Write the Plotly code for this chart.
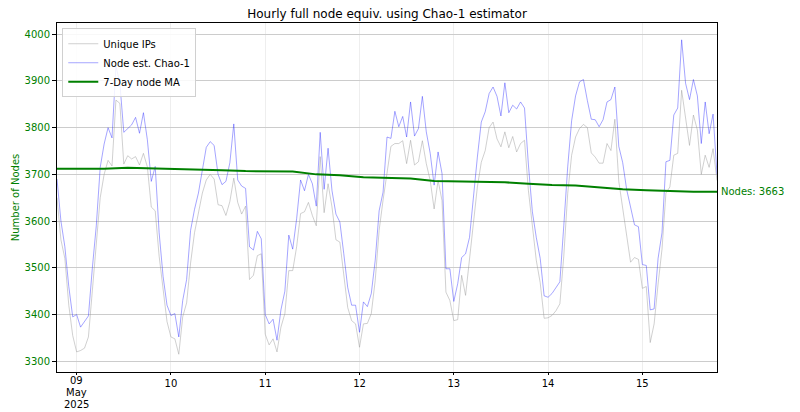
import pandas as pd
import plotly.graph_objects as go

# hourly samples, starting 2025-05-08 19:00
start = "2025-05-08 19:00"

unique_ips = [
    3650, 3560, 3520, 3420, 3355, 3320, 3323, 3328, 3352, 3450, 3560, 3650,
    3700, 3730, 3718, 3859, 3852, 3722, 3740, 3733, 3738, 3720, 3745, 3716,
    3630, 3622, 3525, 3450, 3385, 3352, 3348, 3315, 3395, 3425, 3510, 3575,
    3620, 3660, 3688, 3700, 3690, 3635, 3633, 3612, 3642, 3692, 3640, 3615,
    3632, 3475, 3484, 3526, 3530, 3358, 3335, 3348, 3320, 3373, 3402, 3494,
    3494, 3545, 3616, 3620, 3640, 3612, 3590, 3738, 3618, 3680, 3630, 3560,
    3555, 3480, 3415, 3387, 3380, 3330, 3380, 3381, 3402, 3473, 3580, 3645,
    3705, 3760, 3766, 3766, 3772, 3723, 3773, 3720, 3727, 3772, 3723, 3687,
    3626, 3687, 3644, 3448, 3430, 3387, 3389, 3484, 3441, 3516, 3587, 3673,
    3726, 3751, 3800, 3812, 3776, 3759, 3791, 3757, 3781, 3748, 3766, 3773,
    3665, 3585, 3516, 3468, 3392, 3393, 3398, 3408, 3423, 3525, 3659, 3741,
    3780, 3798, 3807, 3800, 3746, 3737, 3724, 3724, 3766, 3751, 3818, 3685,
    3630, 3570, 3512, 3522, 3518, 3456, 3460, 3340, 3380, 3465, 3540, 3660,
    3673, 3741, 3745, 3880, 3815, 3762, 3827, 3795, 3700, 3741, 3715, 3755,
    3687,
]

chao1 = [
    3690, 3600, 3545, 3460, 3395, 3400, 3373, 3385, 3397, 3500, 3590, 3715,
    3765, 3800, 3778, 3932, 3895, 3790, 3798, 3806, 3822, 3788, 3832, 3774,
    3685, 3717, 3575, 3482, 3420, 3398, 3402, 3352, 3430, 3475, 3580, 3625,
    3660, 3705, 3758, 3770, 3762, 3700, 3678, 3685, 3725, 3808, 3688, 3675,
    3670, 3545, 3538, 3578, 3562, 3400, 3380, 3390, 3345, 3410, 3450, 3570,
    3540, 3605, 3688, 3665, 3700, 3680, 3632, 3790, 3668, 3756, 3665, 3615,
    3598, 3530, 3458, 3420, 3420, 3362, 3427, 3417, 3445, 3516, 3622, 3662,
    3780, 3777, 3835, 3802, 3824, 3780, 3855, 3782, 3798, 3867, 3791, 3745,
    3677, 3748, 3702, 3498, 3498, 3428, 3466, 3522, 3530, 3565, 3655, 3737,
    3812, 3834, 3873, 3887, 3867, 3825, 3896, 3832, 3848, 3840, 3855, 3842,
    3720, 3620, 3565, 3520, 3440, 3437, 3445, 3458, 3470, 3590, 3716, 3815,
    3868, 3898, 3903, 3858, 3818, 3817, 3802, 3817, 3855, 3860, 3887, 3760,
    3725, 3668, 3628, 3592, 3588, 3507, 3505, 3410, 3412, 3520, 3575, 3727,
    3730, 3827, 3842, 3988, 3895, 3860, 3903, 3868, 3766, 3855, 3787, 3829,
    3700,
]

# 7-day moving average, read every 6 hours
ma_7day = [
    3712, 3712, 3712, 3714, 3713, 3712, 3710, 3709, 3707, 3707, 3706, 3700,
    3698, 3694, 3692, 3691, 3686, 3685, 3684, 3683, 3680, 3677, 3676, 3672,
    3668, 3666, 3664, 3663, 3663,
]
last_nodes = 3663

day_ticks = ["2025-05-09", "2025-05-10", "2025-05-11", "2025-05-12",
             "2025-05-13", "2025-05-14", "2025-05-15"]
day_labels = ["09", "10", "11", "12", "13", "14", "15"]
first_tick_lines = ["09", "May", "2025"]
y_ticks = [3300, 3400, 3500, 3600, 3700, 3800, 3900, 4000]

hours = pd.date_range(start, periods=len(chao1), freq="h")
ma_times = pd.date_range(start, periods=len(ma_7day), freq="6h")

fig = go.Figure()
fig.add_trace(go.Scatter(x=hours, y=unique_ips, mode="lines", name="Unique IPs",
                         line=dict(color="rgba(150,150,150,0.45)", width=1)))
fig.add_trace(go.Scatter(x=hours, y=chao1, mode="lines", name="Node est. Chao-1",
                         line=dict(color="rgba(40,40,255,0.42)", width=1)))
fig.add_trace(go.Scatter(x=ma_times, y=ma_7day, mode="lines", name="7-Day node MA",
                         line=dict(color="green", width=2)))

fig.add_annotation(x=1.003, xref="paper", y=last_nodes, yref="y",
                   text=f"Nodes: {last_nodes}", showarrow=False,
                   xanchor="left", font=dict(color="green", size=10))

# first day tick carries day / month / year on three tight lines
for i, txt in enumerate(first_tick_lines):
    fig.add_annotation(x=day_ticks[0], xref="x", y=0, yref="paper",
                       text=txt, showarrow=False, yanchor="middle",
                       yshift=-8 - 12 * i, borderpad=0, font=dict(size=10))

fig.update_layout(
    width=800, height=412,
    margin=dict(l=57, r=83, t=23, b=40),
    paper_bgcolor="white", plot_bgcolor="white",
    font=dict(family="DejaVu Sans", size=10, color="black"),
    title=dict(text="Hourly full node equiv. using Chao-1 estimator",
               x=0.4838, xanchor="center", y=0.966, yanchor="middle",
               font=dict(size=12)),
    showlegend=True,
    legend=dict(x=0.008, y=0.985, xanchor="left", yanchor="top",
                bgcolor="rgba(255,255,255,0.85)", bordercolor="#d0d0d0",
                borderwidth=1, font=dict(size=10), tracegroupgap=0,
                itemwidth=30),
)
fig.update_xaxes(
    range=[hours[0], hours[-1]], tickvals=day_ticks,
    ticktext=[""] + day_labels[1:],
    automargin=False,
    showgrid=True, gridcolor="#eeeeee", gridwidth=1,
    showline=True, linecolor="black", linewidth=1, mirror=True,
    ticks="outside", ticklen=2, tickcolor="black", zeroline=False,
)
fig.update_yaxes(
    range=[3277, 4024], tickvals=y_ticks, automargin=False,
    tickfont=dict(color="green"),
    title=dict(text="Number of Nodes", font=dict(color="green", size=10), standoff=3),
    showgrid=True, gridcolor="#cccccc", gridwidth=1,
    showline=True, linecolor="black", linewidth=1, mirror=True,
    ticks="outside", ticklen=4, tickcolor="black", zeroline=False,
)

# drop the page's default body margin so the figure sits at the window corner
fig.write_html("out.html", config={"displayModeBar": False},
               post_script="document.body.style.margin='0';")
